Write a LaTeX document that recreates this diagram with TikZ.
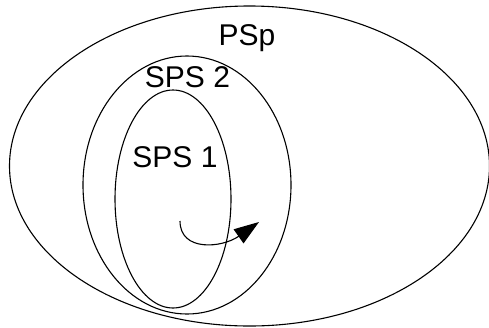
\documentclass[tikz,border=0pt]{standalone}
\usepackage{fontspec}
\setmainfont{Liberation Sans}
\usetikzlibrary{arrows.meta}

\tikzset{
  setlabel/.style={font=\fontsize{30}{32}\selectfont,inner sep=0pt,anchor=center},
  setline/.style={line width=1.1pt}
}

\begin{document}
\begin{tikzpicture}[x=1pt,y=-1pt]

\useasboundingbox (0,0) rectangle (489,327);

\draw [setline] (249.5,166) ellipse [x radius=240, y radius=160];
\draw [setline] (187,185) ellipse [x radius=104, y radius=129];
\draw [setline] (173,199) ellipse [x radius=58, y radius=109];

\node [setlabel] (psp) at (247,38) {PSp};
\node [setlabel] (sps2) at (187.5,77) {SPS 2};
\node [setlabel] (sps1) at (175,157) {SPS 1};

\coordinate (loopstart) at (180,221);
\coordinate (looptip) at (259,222);

\draw [setline,-{Triangle[length=25pt,width=17pt]}] (loopstart) .. controls (180,252) and (222,248) .. (looptip);

\end{tikzpicture}
\end{document}
